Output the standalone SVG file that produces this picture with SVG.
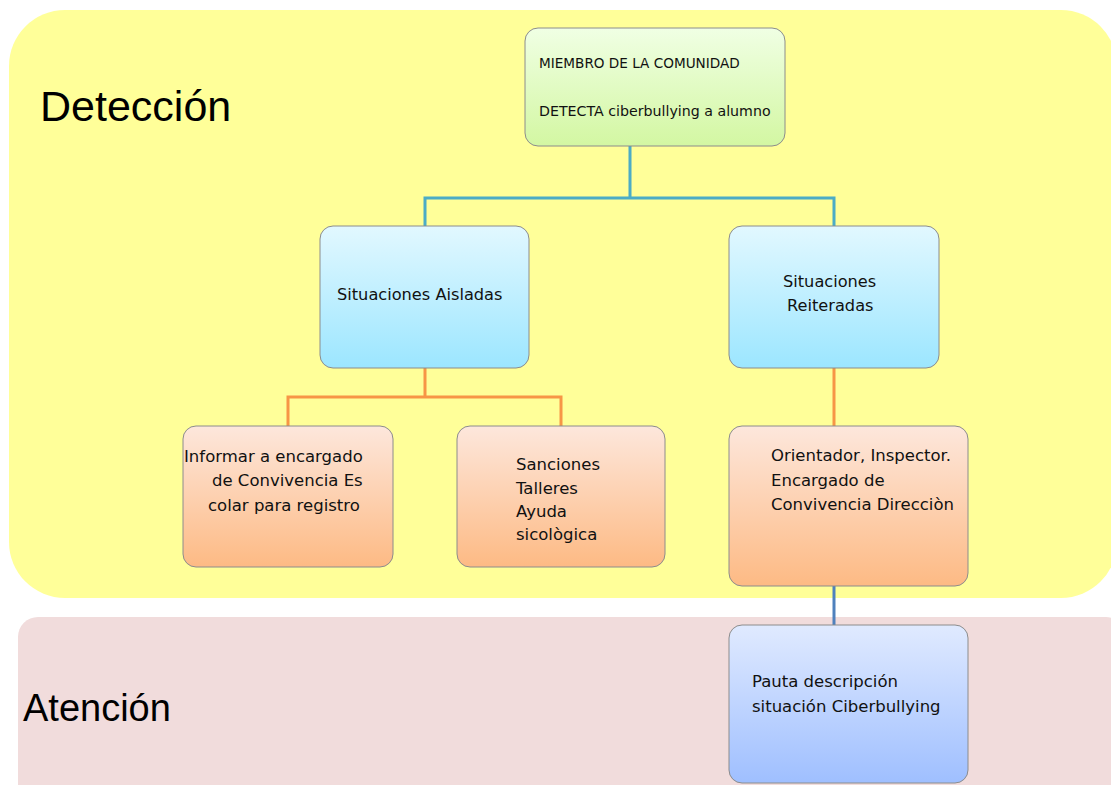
<svg xmlns="http://www.w3.org/2000/svg" width="1111" height="785" viewBox="0 0 1111 785">
<defs>
<linearGradient id="gGreen" x1="0" y1="0" x2="0" y2="1"><stop offset="0" stop-color="#f0ffe4"/><stop offset="1" stop-color="#d3f7a2"/></linearGradient>
<linearGradient id="gCyan" x1="0" y1="0" x2="0" y2="1"><stop offset="0" stop-color="#e2f8ff"/><stop offset="1" stop-color="#9ce6ff"/></linearGradient>
<linearGradient id="gOrange" x1="0" y1="0" x2="0" y2="1"><stop offset="0" stop-color="#fde7dc"/><stop offset="1" stop-color="#fdba84"/></linearGradient>
<linearGradient id="gBlue" x1="0" y1="0" x2="0" y2="1"><stop offset="0" stop-color="#e0eaff"/><stop offset="1" stop-color="#9fbfff"/></linearGradient>
</defs>
<style>
.node{stroke:#8c8c8c;stroke-width:1}
.t{font-family:"DejaVu Sans",sans-serif;fill:#111}
.title{font-family:"Liberation Sans",Arial,sans-serif;fill:#000}
.c{fill:none;stroke-width:3}
</style>
<rect width="1111" height="785" fill="#ffffff"/>
<g id="zone-deteccion">
<rect x="9" y="10" width="1108" height="588" rx="56" ry="56" fill="#ffff99"/>
<text class="title" x="40" y="121" font-size="43">Detección</text>
</g>
<g id="zone-atencion">
<rect x="18" y="617" width="1108" height="200" rx="20" ry="20" fill="#f1dcdc"/>
<text class="title" x="23" y="721" font-size="38">Atención</text>
</g>
<g id="connectors">
<path class="c" stroke="#4bacc6" d="M630,146 V197 M425,226 V198 H834 V226"/>
<path class="c" stroke="#f79646" d="M425,368 V397 M288,426 V397 H561 V426 M834,368 V426"/>
<path class="c" stroke="#4f81bd" d="M834,586 V625"/>
</g>
<g id="node-miembro">
<rect class="node" x="525" y="28" width="260" height="118" rx="13" fill="url(#gGreen)"/>
<text class="t" x="539" y="68" font-size="13.6">MIEMBRO DE LA COMUNIDAD</text>
<text class="t" x="539" y="116" font-size="14.2">DETECTA ciberbullying a alumno</text>
</g>
<g id="node-aisladas">
<rect class="node" x="320" y="226" width="209" height="142" rx="13" fill="url(#gCyan)"/>
<text class="t" x="337" y="300" font-size="16.2">Situaciones Aisladas</text>
</g>
<g id="node-reiteradas">
<rect class="node" x="729" y="226" width="210" height="142" rx="13" fill="url(#gCyan)"/>
<text class="t" x="783" y="287" font-size="16.2">Situaciones</text>
<text class="t" x="787" y="311" font-size="16.2">Reiteradas</text>
</g>
<g id="node-informar">
<rect class="node" x="183" y="426" width="210" height="141" rx="13" fill="url(#gOrange)"/>
<text class="t" x="184" y="462" font-size="16.5">Informar a encargado</text>
<text class="t" x="212" y="486" font-size="16.5">de Convivencia Es</text>
<text class="t" x="208" y="511" font-size="16.5">colar para registro</text>
</g>
<g id="node-sanciones">
<rect class="node" x="457" y="426" width="208" height="141" rx="13" fill="url(#gOrange)"/>
<text class="t" x="516" y="470" font-size="16.5">Sanciones</text>
<text class="t" x="516" y="494" font-size="16.5">Talleres</text>
<text class="t" x="516" y="517" font-size="16.5">Ayuda</text>
<text class="t" x="516" y="540" font-size="16.5">sicològica</text>
</g>
<g id="node-orientador">
<rect class="node" x="729" y="426" width="239" height="160" rx="13" fill="url(#gOrange)"/>
<text class="t" x="771" y="461" font-size="16.5">Orientador, Inspector.</text>
<text class="t" x="771" y="486" font-size="16.5">Encargado de</text>
<text class="t" x="771" y="510" font-size="16.5">Convivencia Direcciòn</text>
</g>
<g id="node-pauta">
<rect class="node" x="729" y="625" width="239" height="158" rx="13" fill="url(#gBlue)"/>
<text class="t" x="752" y="687" font-size="16.5">Pauta descripción</text>
<text class="t" x="752" y="712" font-size="16.5">situación Ciberbullying</text>
</g>
</svg>
